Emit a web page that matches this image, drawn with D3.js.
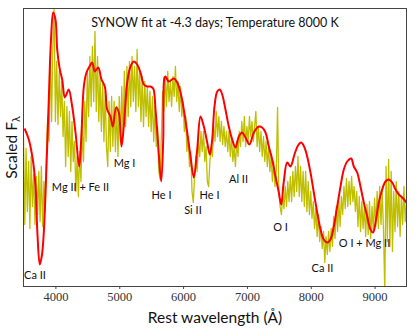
<!DOCTYPE html>
<html><head><meta charset="utf-8">
<script src="https://cdn.jsdelivr.net/npm/d3@7"></script>
<style>
html,body{margin:0;padding:0;background:#fff;}
svg{display:block;}
</style></head>
<body>
<script>
// ---- data ----
const titleText = "SYNOW fit at -4.3 days; Temperature 8000 K";
const xTicks = [4000, 5000, 6000, 7000, 8000, 9000];

// observed spectrum: 20 Å grid from 3500 to 9500
const obsStart = 3500, obsStep = 20;
const obsFlux = [
 1.50,0.62,1.38,0.75,1.25,0.58,1.30,0.80,1.12,0.62,
 1.10,0.72,1.15,0.65,1.20,0.60,1.05,0.75,1.35,1.70,
 1.45,2.30,1.65,2.40,2.77,1.65,2.25,1.62,2.15,1.70,
 2.05,1.50,1.85,1.20,1.80,1.30,1.75,1.15,1.65,1.25,
 1.45,0.95,1.30,0.90,1.35,1.05,1.60,1.25,1.85,1.45,
 2.15,1.70,2.30,1.80,2.40,1.85,2.55,1.75,2.30,1.65,
 2.10,1.55,2.05,1.45,1.95,1.40,1.20,1.85,1.35,1.90,
 1.40,1.85,1.35,1.80,1.30,1.90,1.45,2.00,1.50,2.15,
 1.60,2.20,1.70,2.25,1.80,2.30,1.85,2.20,1.75,2.37,
 1.80,2.15,1.65,2.10,1.60,2.05,1.70,2.00,1.60,1.95,
 1.55,1.90,1.45,1.80,1.40,1.60,1.15,1.07,1.50,1.95,
 1.75,2.10,1.80,2.15,1.85,2.05,1.80,2.10,1.90,2.20,
 1.85,2.05,1.75,2.00,1.70,1.85,1.55,1.70,1.35,1.50,
 1.20,1.35,0.95,0.84,1.10,1.30,1.15,1.45,1.30,1.55,
 1.35,1.55,1.25,1.40,1.05,1.00,1.25,1.40,1.30,1.60,
 1.45,1.75,1.50,1.70,1.45,1.65,1.42,1.60,1.40,1.55,
 1.35,1.55,1.30,1.50,1.25,1.40,1.20,1.45,1.30,1.55,
 1.40,1.65,1.45,1.70,1.40,1.60,1.45,1.70,1.50,1.65,
 1.45,1.60,1.75,1.40,1.60,1.35,1.55,1.30,1.50,1.25,
 1.45,1.20,1.40,1.15,1.30,1.05,1.25,1.00,1.15,1.79,
 0.95,0.80,0.72,0.90,0.78,1.00,0.80,1.05,0.85,1.10,
 0.85,1.15,0.90,1.20,0.95,1.30,0.90,1.20,0.85,1.15,
 0.80,1.15,0.75,1.05,0.72,0.95,0.68,0.85,0.58,0.78,
 0.50,0.72,0.45,0.60,0.38,0.55,0.24,0.50,0.32,0.55,
 0.35,0.58,0.40,0.70,0.48,0.80,0.55,0.85,0.60,0.90,
 0.72,1.00,0.78,1.08,0.80,1.05,0.82,1.10,0.85,1.00,
 0.75,0.95,0.60,0.90,0.55,0.85,0.58,0.80,0.50,0.82,
 0.52,0.85,0.48,0.80,0.55,0.88,0.60,0.95,0.58,1.00,
 0.62,0.95,0.55,-0.05,1.20,0.45,1.27,0.40,1.15,0.35,
 0.95,0.55,1.05,0.60,0.95,0.50,0.90,0.62,1.00,0.65,0.85
];

// SYNOW model
const modelWave = [3516,3583,3652,3688,3719,3755,3790,3818,3860,3896,3931,3965,4001,4028,4069,4106,4147,4185,4210,4263,4315,4373,4409,4445,4487,4534,4576,4617,4670,4722,4774,4811,4863,4899,4952,4993,5035,5071,5125,5176,5228,5281,5333,5385,5438,5490,5532,5568,5604,5657,5689,5709,5725,5776,5855,5908,5960,6011,6065,6116,6168,6221,6273,6325,6378,6419,6456,6492,6535,6575,6613,6664,6716,6769,6821,6873,6926,6978,7040,7108,7186,7239,7291,7343,7396,7448,7500,7537,7578,7631,7683,7745,7800,7850,7902,7944,7996,8048,8101,8153,8204,8258,8309,8361,8414,8466,8518,8571,8634,8674,8727,8779,8831,8884,8936,8978,9015,9066,9119,9171,9223,9276,9328,9380,9433,9500];
const modelFlux = [1.58,1.47,1.24,1.00,0.52,0.22,0.32,0.54,1.20,1.87,2.47,2.74,2.67,2.37,2.17,2.07,1.89,1.94,1.97,1.80,1.54,1.20,1.54,2.00,2.14,2.20,2.24,2.15,2.19,2.07,2.00,1.77,1.70,1.60,1.79,1.74,1.40,1.60,2.04,2.20,2.25,2.22,2.14,2.02,2.00,2.00,1.98,1.77,1.47,1.05,1.47,2.09,2.10,2.05,2.08,2.04,1.94,1.77,1.54,1.30,1.09,1.37,1.70,1.60,1.44,1.32,1.47,1.80,1.95,1.97,1.92,1.77,1.60,1.47,1.39,1.50,1.54,1.49,1.42,1.54,1.60,1.59,1.54,1.40,1.27,1.10,0.94,0.82,1.05,1.24,1.20,1.32,1.41,1.44,1.39,1.30,1.14,0.94,0.74,0.57,0.47,0.44,0.47,0.60,0.80,1.00,1.17,1.25,1.28,1.20,1.14,1.00,0.84,0.70,0.57,0.54,0.64,0.84,0.97,1.05,1.07,1.04,0.97,0.92,0.89,0.84];

// line identifications: label, wavelength, flux at label
const lineLabels = ["Ca II","Mg II + Fe II","Mg I","He I","Si II","He I","Al II","O I","Ca II","O I + Mg II"];
const lineWave   = [3680, 4393, 5082, 5662, 6155, 6414, 6868, 7526, 8184, 8842];
const lineFlux   = [0.12, 1.00, 1.24, 0.92, 0.77, 0.92, 1.08, 0.60, 0.19, 0.44];

// ---- chart ----
const W = 415, H = 332;
const m = {left:23.5, right:406.5, top:8.5, bottom:286.5};
const svg = d3.select("body").append("svg").attr("width", W).attr("height", H);

const x = d3.scaleLinear().domain([3500, 9500]).range([m.left, m.right]);
const y = d3.scaleLinear().domain([0, 2.78]).range([m.bottom, m.top]);

svg.append("defs").append("clipPath").attr("id","clip")
  .append("rect").attr("x", m.left).attr("y", m.top)
  .attr("width", m.right - m.left).attr("height", m.bottom - m.top);

const obs = obsFlux.map((f,i) => [obsStart + i*obsStep, f]);
const model = modelWave.map((w,i) => [w, modelFlux[i]]);

const g = svg.append("g").attr("clip-path","url(#clip)");
g.append("path").datum(obs)
  .attr("fill","none").attr("stroke","#bfbf00").attr("stroke-width",1.3)
  .attr("stroke-linejoin","round")
  .attr("d", d3.line().x(d=>x(d[0])).y(d=>y(d[1])));
g.append("path").datum(model)
  .attr("fill","none").attr("stroke","#ff0000").attr("stroke-width",2)
  .attr("stroke-linejoin","round")
  .attr("d", d3.line().curve(d3.curveCatmullRom).x(d=>x(d[0])).y(d=>y(d[1])));

// frame
svg.append("rect").attr("x", m.left).attr("y", m.top)
  .attr("width", m.right - m.left).attr("height", m.bottom - m.top)
  .attr("fill","none").attr("stroke","#444").attr("stroke-width",1);

// x axis
const xAxis = svg.append("g").attr("transform", `translate(0,${m.bottom})`)
  .call(d3.axisBottom(x).tickValues(xTicks).tickSize(2.5).tickPadding(3).tickFormat(d3.format("d")));
xAxis.select(".domain").remove();
xAxis.selectAll(".tick line").attr("stroke","#444");
xAxis.selectAll("text").attr("font-family","'Liberation Serif', 'DejaVu Serif', serif")
  .attr("font-size", 12.5).attr("fill","#333");

// labels
const sans = "Lato, 'Open Sans', sans-serif";
svg.append("text").attr("x", (m.left+m.right)/2).attr("y", 22)
  .attr("text-anchor","middle").attr("dominant-baseline","central")
  .attr("font-family", sans).attr("font-size", 12.5).attr("fill","#111").text(titleText);

svg.append("text").attr("x", (m.left+m.right)/2).attr("y", 317)
  .attr("text-anchor","middle").attr("dominant-baseline","central")
  .attr("font-family", sans).attr("font-size", 15.5).attr("fill","#111").text("Rest wavelength (Å)");

const yl = svg.append("text").attr("transform", `translate(11,${(m.top+m.bottom)/2}) rotate(-90)`)
  .attr("text-anchor","middle").attr("dominant-baseline","central")
  .attr("font-family", sans).attr("font-size", 15.5).attr("fill","#111");
yl.append("tspan").text("Scaled F");
yl.append("tspan").attr("font-size", 11).attr("dy", 4).text("λ");

svg.append("g").selectAll("text").data(lineLabels).join("text")
  .attr("x", (d,i) => x(lineWave[i])).attr("y", (d,i) => y(lineFlux[i]))
  .attr("text-anchor","middle").attr("dominant-baseline","central")
  .attr("font-family", sans).attr("font-size", 11).attr("fill","#111")
  .text(d => d);
</script>
</body></html>
